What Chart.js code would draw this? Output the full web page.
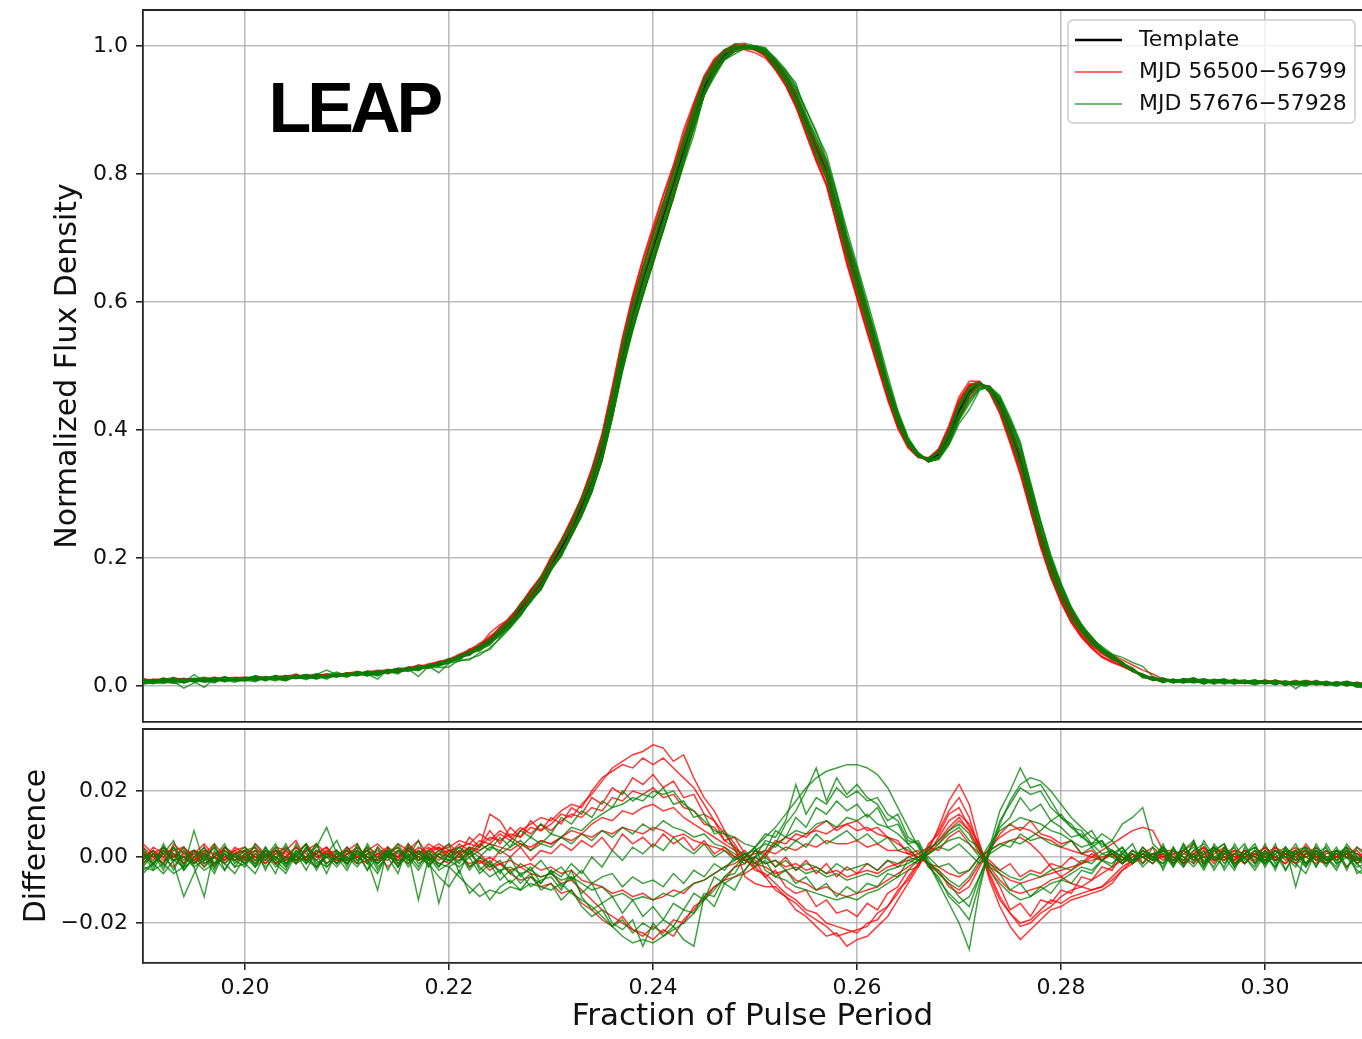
<!DOCTYPE html>
<html>
<head>
<meta charset="utf-8">
<script src="https://cdn.jsdelivr.net/npm/chart.js@4.4.1/dist/chart.umd.min.js"></script>
<style>
  html, body { margin: 0; padding: 0; background: #fff; overflow: hidden; }
  #wrap { position: relative; width: 1362px; height: 1039px; }
  #profile-chart { position: absolute; left: 0; top: 0; }
  #diff-chart { position: absolute; left: 0; top: 724px; }
</style>
</head>
<body>
<div id="wrap">
  <canvas id="profile-chart" width="1362" height="724"></canvas>
  <canvas id="diff-chart" width="1362" height="315"></canvas>
</div>
<script>
// pulse phase bins
const phase = [
  0.190, 0.191, 0.192, 0.193, 0.194, 0.195, 0.196, 0.197, 0.198, 0.199,
  0.200, 0.201, 0.202, 0.203, 0.204, 0.205, 0.206, 0.207, 0.208, 0.209,
  0.210, 0.211, 0.212, 0.213, 0.214, 0.215, 0.216, 0.217, 0.218, 0.219,
  0.220, 0.221, 0.222, 0.223, 0.224, 0.225, 0.226, 0.227, 0.228, 0.229,
  0.230, 0.231, 0.232, 0.233, 0.234, 0.235, 0.236, 0.237, 0.238, 0.239,
  0.240, 0.241, 0.242, 0.243, 0.244, 0.245, 0.246, 0.247, 0.248, 0.249,
  0.250, 0.251, 0.252, 0.253, 0.254, 0.255, 0.256, 0.257, 0.258, 0.259,
  0.260, 0.261, 0.262, 0.263, 0.264, 0.265, 0.266, 0.267, 0.268, 0.269,
  0.270, 0.271, 0.272, 0.273, 0.274, 0.275, 0.276, 0.277, 0.278, 0.279,
  0.280, 0.281, 0.282, 0.283, 0.284, 0.285, 0.286, 0.287, 0.288, 0.289,
  0.290, 0.291, 0.292, 0.293, 0.294, 0.295, 0.296, 0.297, 0.298, 0.299,
  0.300, 0.301, 0.302, 0.303, 0.304, 0.305, 0.306, 0.307, 0.308, 0.309,
  0.310
];

// standard profile, normalised to its peak
const template = [
  0.008, 0.008, 0.009, 0.009, 0.009, 0.010, 0.010, 0.010, 0.011, 0.011,
  0.011, 0.012, 0.012, 0.013, 0.013, 0.014, 0.014, 0.015, 0.016, 0.017,
  0.018, 0.019, 0.020, 0.021, 0.023, 0.024, 0.026, 0.028, 0.031, 0.035,
  0.039, 0.045, 0.052, 0.060, 0.070, 0.085, 0.100, 0.120, 0.140, 0.160,
  0.190, 0.215, 0.245, 0.280, 0.320, 0.370, 0.440, 0.515, 0.580, 0.635,
  0.685, 0.735, 0.785, 0.838, 0.888, 0.935, 0.966, 0.986, 0.997, 1.000,
  0.997, 0.990, 0.972, 0.950, 0.920, 0.880, 0.840, 0.805, 0.745, 0.685,
  0.630, 0.575, 0.520, 0.465, 0.415, 0.380, 0.360, 0.353, 0.362, 0.390,
  0.430, 0.460, 0.472, 0.465, 0.440, 0.400, 0.355, 0.295, 0.235, 0.185,
  0.145, 0.112, 0.088, 0.070, 0.055, 0.045, 0.035, 0.025, 0.016, 0.011,
  0.009, 0.008, 0.008, 0.008, 0.007, 0.007, 0.007, 0.007, 0.006, 0.006,
  0.006, 0.006, 0.005, 0.005, 0.005, 0.005, 0.004, 0.004, 0.004, 0.003,
  0.003
];

// residuals (profile - template), MJD 56500-56799
const early1 = [
  0.002, -0.001, 0.003, 0.001, -0.002, 0.002, 0.000, 0.003, -0.001, 0.001,
  0.002, 0.000, -0.002, 0.001, 0.003, 0.000, -0.001, 0.002, 0.001, -0.002,
  0.001, 0.002, 0.000, -0.001, 0.003, 0.001, 0.000, 0.002, -0.001, 0.001,
  0.002, 0.003, 0.004, 0.003, 0.006, 0.005, 0.007, 0.006, 0.009, 0.008,
  0.010, 0.013, 0.012, 0.016, 0.019, 0.023, 0.027, 0.029, 0.031, 0.032,
  0.034, 0.033, 0.029, 0.031, 0.024, 0.018, 0.014, 0.008, 0.004, -0.001,
  -0.003, -0.006, -0.010, -0.012, -0.016, -0.018, -0.021, -0.024, -0.023, -0.027,
  -0.025, -0.024, -0.021, -0.018, -0.013, -0.008, -0.003, 0.002, 0.009, 0.017,
  0.022, 0.016, 0.004, -0.007, -0.015, -0.021, -0.025, -0.022, -0.019, -0.016,
  -0.015, -0.013, -0.012, -0.011, -0.010, -0.008, -0.004, -0.001, 0.001, 0.000,
  0.001, -0.002, 0.002, 0.000, 0.003, -0.001, 0.001, 0.002, -0.002, 0.001,
  0.000, 0.002, -0.001, 0.001, -0.002, 0.002, 0.000, 0.001, -0.003, 0.001,
  -0.001
];
const early2 = [
  -0.001, 0.003, 0.001, 0.000, 0.002, -0.002, 0.001, 0.004, 0.000, -0.001,
  0.001, 0.003, 0.000, 0.002, -0.001, 0.001, 0.004, 0.000, 0.001, 0.002,
  -0.001, 0.000, 0.003, 0.001, 0.002, 0.000, 0.004, 0.001, 0.002, 0.003,
  0.001, 0.004, 0.002, 0.005, 0.004, 0.007, 0.005, 0.008, 0.010, 0.012,
  0.011, 0.014, 0.016, 0.015, 0.020, 0.024, 0.026, 0.028, 0.027, 0.030,
  0.028, 0.030, 0.027, 0.024, 0.021, 0.016, 0.011, 0.007, 0.003, 0.000,
  -0.004, -0.005, -0.008, -0.011, -0.013, -0.016, -0.017, -0.020, -0.021, -0.022,
  -0.023, -0.020, -0.019, -0.015, -0.011, -0.006, -0.002, 0.003, 0.008, 0.014,
  0.018, 0.012, 0.002, -0.006, -0.013, -0.017, -0.020, -0.019, -0.016, -0.013,
  -0.014, -0.012, -0.011, -0.010, -0.009, -0.006, -0.003, -0.001, 0.001, -0.001,
  0.002, 0.000, -0.001, 0.002, 0.001, -0.002, 0.003, 0.000, 0.001, -0.001,
  0.002, -0.001, 0.001, 0.003, 0.000, -0.002, 0.001, 0.002, 0.000, -0.001,
  0.001
];
const early3 = [
  0.004, 0.001, -0.002, 0.002, 0.003, 0.000, -0.003, 0.001, 0.002, -0.001,
  0.000, 0.002, 0.001, -0.002, 0.000, 0.003, 0.001, -0.001, 0.002, 0.000,
  0.002, -0.001, 0.001, 0.002, 0.000, 0.004, 0.002, -0.001, 0.001, 0.003,
  0.000, 0.002, 0.001, 0.003, 0.013, 0.011, 0.006, 0.004, 0.002, 0.005,
  0.004, 0.006, 0.008, 0.007, 0.010, 0.012, 0.011, 0.014, 0.013, 0.015,
  0.016, 0.014, 0.015, 0.012, 0.010, 0.008, 0.006, 0.004, 0.002, -0.001,
  -0.002, -0.003, -0.005, -0.004, -0.007, -0.008, -0.010, -0.009, -0.011, -0.012,
  -0.011, -0.010, -0.009, -0.007, -0.005, -0.003, -0.001, 0.001, 0.004, 0.008,
  0.011, 0.008, 0.002, -0.003, -0.007, -0.010, -0.011, -0.010, -0.009, -0.007,
  -0.006, -0.004, -0.002, 0.000, 0.002, 0.004, 0.006, 0.008, 0.009, 0.008,
  0.002, 0.002, 0.000, -0.002, 0.001, 0.003, 0.000, -0.001, 0.002, 0.000,
  0.003, 0.000, -0.002, 0.001, 0.002, -0.001, 0.002, 0.000, 0.001, -0.002,
  0.000
];
const early4 = [
  -0.002, 0.001, 0.000, -0.003, 0.001, 0.002, -0.001, 0.000, -0.002, 0.001,
  -0.001, 0.000, 0.002, -0.002, -0.001, 0.001, 0.000, -0.003, 0.000, 0.001,
  0.000, -0.002, -0.001, 0.001, -0.003, 0.000, 0.002, -0.001, 0.000, -0.002,
  -0.001, 0.000, -0.002, -0.001, -0.003, -0.002, -0.004, -0.003, -0.005, -0.006,
  -0.005, -0.008, -0.007, -0.010, -0.013, -0.016, -0.018, -0.020, -0.022, -0.023,
  -0.025, -0.022, -0.024, -0.019, -0.016, -0.012, -0.009, -0.007, -0.006, -0.005,
  -0.003, 0.001, 0.004, 0.006, 0.005, 0.007, 0.008, 0.007, 0.009, 0.010,
  0.008, 0.009, 0.007, 0.006, 0.004, 0.002, 0.000, -0.002, -0.005, -0.008,
  -0.010, -0.007, -0.002, 0.003, 0.006, 0.008, 0.009, 0.008, 0.006, 0.005,
  0.003, 0.002, 0.001, 0.000, -0.001, 0.001, -0.002, 0.000, 0.001, -0.001,
  0.000, 0.001, -0.002, 0.001, 0.000, -0.001, 0.002, -0.002, 0.000, 0.001,
  -0.001, 0.000, 0.002, -0.001, 0.001, 0.000, -0.002, 0.001, 0.000, -0.001,
  0.000
];
const early5 = [
  0.001, 0.000, 0.002, -0.001, 0.000, 0.001, -0.002, 0.000, 0.003, 0.000,
  -0.002, 0.001, 0.000, 0.002, 0.000, -0.001, 0.002, 0.001, -0.002, 0.000,
  0.002, 0.000, -0.002, 0.001, 0.000, -0.001, 0.003, 0.000, -0.002, 0.001,
  0.000, -0.001, 0.001, -0.002, 0.000, -0.002, -0.001, -0.003, -0.002, -0.004,
  -0.003, -0.005, -0.004, -0.007, -0.008, -0.009, -0.011, -0.010, -0.012, -0.011,
  -0.013, -0.012, -0.010, -0.011, -0.008, -0.007, -0.005, -0.003, -0.002, 0.000,
  0.001, 0.002, 0.001, 0.003, 0.002, 0.004, 0.003, 0.005, 0.004, 0.004,
  0.005, 0.003, 0.004, 0.002, 0.002, 0.001, 0.000, -0.002, -0.003, -0.005,
  -0.006, -0.004, 0.000, 0.002, 0.004, 0.005, 0.006, 0.004, 0.001, -0.003,
  -0.006, -0.008, -0.009, -0.010, -0.009, -0.007, -0.004, -0.002, 0.000, 0.001,
  0.000, -0.002, 0.001, 0.000, 0.002, -0.001, 0.000, 0.001, -0.002, 0.001,
  0.000, -0.001, 0.001, 0.000, 0.002, -0.001, -0.002, 0.000, 0.001, 0.000,
  -0.001
];
const early6 = [
  0.000, 0.002, -0.001, 0.001, 0.000, -0.002, 0.002, 0.001, -0.001, 0.003,
  0.001, -0.001, 0.000, 0.003, 0.002, -0.001, 0.000, 0.001, 0.003, 0.000,
  -0.002, 0.001, 0.002, 0.000, -0.001, 0.002, 0.000, 0.003, 0.001, -0.001,
  0.002, 0.001, 0.003, 0.002, 0.004, 0.003, 0.002, 0.004, 0.003, 0.005,
  0.004, 0.006, 0.005, 0.007, 0.006, 0.008, 0.007, 0.009, 0.008, 0.007,
  0.009, 0.008, 0.006, 0.007, 0.005, 0.004, 0.003, 0.002, 0.000, -0.001,
  0.000, -0.002, -0.001, -0.003, -0.002, -0.004, -0.003, -0.005, -0.004, -0.006,
  -0.005, -0.004, -0.005, -0.003, -0.002, -0.001, 0.000, 0.002, 0.005, 0.009,
  0.012, 0.008, 0.002, -0.002, -0.005, -0.007, -0.008, -0.007, -0.006, -0.005,
  -0.004, -0.003, -0.002, -0.001, 0.000, 0.001, -0.001, 0.002, 0.000, 0.001,
  -0.001, 0.001, 0.002, -0.001, 0.000, 0.002, -0.001, 0.001, 0.000, 0.002,
  0.001, 0.000, -0.002, 0.002, 0.000, 0.001, -0.001, 0.000, 0.002, -0.001,
  0.001
];
const early7 = [
  0.003, 0.000, -0.002, 0.004, 0.001, -0.001, 0.003, -0.002, 0.000, 0.002,
  -0.001, 0.004, 0.001, -0.002, 0.002, 0.005, -0.001, 0.001, 0.003, -0.002,
  0.002, 0.004, -0.001, 0.001, 0.003, -0.002, 0.002, 0.005, 0.000, 0.002,
  0.004, 0.001, 0.006, 0.003, 0.008, 0.004, 0.009, 0.006, 0.011, 0.008,
  0.012, 0.010, 0.015, 0.013, 0.018, 0.016, 0.021, 0.019, 0.024, 0.022,
  0.025, 0.021, 0.023, 0.018, 0.019, 0.013, 0.011, 0.005, 0.006, 0.001,
  -0.001, -0.006, -0.004, -0.009, -0.011, -0.010, -0.015, -0.013, -0.017, -0.016,
  -0.018, -0.014, -0.016, -0.011, -0.009, -0.004, -0.003, 0.004, 0.007, 0.013,
  0.015, 0.009, 0.004, -0.004, -0.009, -0.016, -0.014, -0.018, -0.013, -0.014,
  -0.010, -0.011, -0.006, -0.007, -0.003, -0.004, 0.001, -0.002, 0.003, 0.000,
  0.003, -0.001, 0.002, 0.004, -0.002, 0.001, 0.003, -0.001, 0.002, 0.000,
  -0.002, 0.003, 0.001, -0.001, 0.004, 0.000, -0.002, 0.002, 0.000, 0.003,
  0.001
];
const early8 = [
  -0.001, 0.002, 0.000, 0.003, -0.002, 0.001, 0.004, 0.000, -0.001, 0.002,
  0.003, 0.000, -0.001, 0.002, 0.001, -0.002, 0.003, 0.000, 0.002, -0.001,
  0.001, 0.003, 0.000, -0.001, 0.002, 0.000, -0.002, 0.001, 0.003, 0.000,
  -0.002, 0.001, -0.003, -0.001, -0.004, -0.002, -0.005, -0.007, -0.006, -0.009,
  -0.008, -0.011, -0.010, -0.014, -0.016, -0.019, -0.021, -0.018, -0.022, -0.024,
  -0.021, -0.023, -0.019, -0.020, -0.015, -0.013, -0.009, -0.007, -0.003, -0.002,
  0.002, 0.001, 0.005, 0.004, 0.007, 0.006, 0.009, 0.011, 0.008, 0.010,
  0.011, 0.008, 0.009, 0.006, 0.005, 0.001, 0.002, -0.003, -0.004, -0.009,
  -0.011, -0.009, -0.003, 0.002, 0.007, 0.010, 0.008, 0.011, 0.007, 0.006,
  0.004, 0.005, 0.001, 0.002, -0.001, 0.001, -0.002, 0.001, 0.000, -0.002,
  0.001, -0.001, 0.002, 0.000, -0.002, 0.003, 0.001, -0.001, 0.002, 0.000,
  -0.001, 0.002, 0.000, -0.002, 0.001, 0.003, -0.001, 0.000, 0.002, -0.002,
  0.000
];
const early9 = [
  0.001, -0.002, 0.002, 0.000, 0.003, -0.001, 0.001, -0.003, 0.002, 0.000,
  0.000, 0.002, -0.002, 0.001, 0.000, 0.003, -0.001, 0.002, 0.000, -0.001,
  -0.001, 0.000, 0.002, -0.002, 0.001, 0.003, -0.001, 0.000, 0.002, 0.004,
  0.002, 0.000, 0.003, 0.001, -0.002, 0.002, 0.000, 0.003, -0.001, 0.002,
  0.001, 0.004, 0.002, 0.005, 0.003, 0.006, 0.002, 0.007, 0.004, 0.006,
  0.003, 0.007, 0.004, 0.006, 0.002, 0.005, 0.001, 0.003, 0.000, 0.002,
  -0.002, 0.001, -0.003, 0.000, -0.004, -0.001, -0.005, -0.002, -0.006, -0.003,
  -0.005, -0.002, -0.004, -0.001, -0.003, 0.000, 0.001, 0.003, 0.002, 0.006,
  0.008, 0.004, 0.001, -0.001, -0.004, -0.002, -0.006, -0.004, -0.005, -0.002,
  -0.003, 0.000, -0.002, 0.001, -0.001, 0.002, 0.000, -0.002, 0.001, 0.003,
  0.000, 0.002, -0.002, 0.001, 0.003, -0.001, 0.002, 0.000, -0.002, 0.001,
  0.003, -0.001, 0.001, 0.002, -0.002, 0.000, 0.002, -0.001, 0.001, 0.002,
  -0.001
];
const early10 = [
  -0.002, 0.001, 0.003, -0.001, 0.000, 0.002, 0.001, -0.002, 0.003, 0.001,
  0.002, -0.002, 0.001, 0.000, 0.002, -0.001, 0.002, 0.004, 0.001, 0.000,
  0.003, 0.000, 0.002, 0.004, 0.001, 0.000, 0.003, 0.001, 0.004, 0.002,
  0.003, 0.005, 0.004, 0.007, 0.005, 0.008, 0.006, 0.009, 0.007, 0.010,
  0.008, 0.011, 0.013, 0.012, 0.015, 0.014, 0.018, 0.017, 0.020, 0.019,
  0.021, 0.018, 0.019, 0.015, 0.014, 0.010, 0.009, 0.005, 0.003, -0.006,
  -0.008, -0.009, -0.009, -0.012, -0.014, -0.017, -0.019, -0.021, -0.024, -0.023,
  -0.022, -0.021, -0.017, -0.015, -0.010, -0.007, -0.002, 0.001, 0.006, 0.011,
  0.013, 0.010, 0.003, -0.005, -0.012, -0.017, -0.021, -0.020, -0.017, -0.015,
  -0.012, -0.010, -0.009, -0.007, -0.005, -0.003, -0.001, 0.001, -0.002, 0.001,
  0.002, 0.000, -0.002, 0.001, 0.003, 0.000, -0.001, 0.002, 0.001, -0.002,
  0.001, 0.003, 0.000, -0.002, 0.001, 0.002, -0.001, 0.000, 0.003, 0.001,
  0.000
];

// residuals (profile - template), MJD 57676-57928
const late1 = [
  -0.003, -0.004, -0.002, -0.005, -0.003, -0.001, -0.004, -0.002, 0.001, -0.003,
  -0.002, 0.001, -0.003, 0.000, -0.002, 0.002, -0.001, -0.003, 0.001, -0.002,
  0.000, -0.003, 0.001, -0.002, 0.002, -0.001, 0.000, -0.004, 0.001, -0.002,
  -0.003, -0.006, -0.009, -0.012, -0.010, -0.011, -0.009, -0.010, -0.008, -0.009,
  -0.010, -0.008, -0.011, -0.013, -0.015, -0.018, -0.021, -0.024, -0.026, -0.025,
  -0.026, -0.024, -0.022, -0.020, -0.017, -0.013, -0.010, -0.006, -0.003, 0.000,
  0.003, 0.006, 0.009, 0.013, 0.017, 0.021, 0.024, 0.026, 0.027, 0.028,
  0.028, 0.027, 0.025, 0.021, 0.015, 0.009, 0.003, -0.002, -0.007, -0.011,
  -0.014, -0.012, -0.006, 0.002, 0.010, 0.017, 0.022, 0.024, 0.023, 0.020,
  0.016, 0.012, 0.009, 0.006, 0.004, 0.002, 0.000, -0.002, 0.001, -0.001,
  0.002, -0.001, 0.003, 0.000, -0.003, 0.002, 0.004, -0.002, 0.001, 0.003,
  -0.001, 0.002, 0.000, -0.003, 0.003, 0.001, -0.002, 0.002, 0.000, -0.003,
  -0.002
];
const late2 = [
  0.002, -0.003, 0.004, -0.002, -0.012, -0.005, 0.001, -0.004, 0.003, 0.000,
  0.002, 0.003, -0.004, 0.002, -0.003, 0.004, -0.002, 0.001, -0.005, 0.002,
  -0.003, 0.004, -0.002, 0.003, -0.004, 0.002, 0.000, 0.005, -0.003, 0.001,
  0.004, -0.005, 0.002, -0.003, -0.006, -0.004, -0.008, -0.005, -0.009, -0.007,
  -0.006, -0.010, -0.004, -0.012, -0.016, -0.014, -0.020, -0.022, -0.019, -0.027,
  -0.020, -0.024, -0.021, -0.025, -0.027, -0.012, -0.015, -0.008, -0.010, -0.004,
  0.000, 0.005, 0.004, 0.010, 0.014, 0.020, 0.027, 0.017, 0.024, 0.019,
  0.022, 0.018, 0.016, 0.011, 0.013, 0.006, 0.004, -0.002, -0.008, -0.014,
  -0.020, -0.028, -0.010, 0.003, 0.014, 0.020, 0.027, 0.021, 0.022, 0.017,
  0.012, 0.010, 0.006, 0.008, 0.003, 0.005, 0.001, 0.004, -0.002, 0.003,
  -0.004, 0.003, -0.002, 0.005, -0.003, 0.004, 0.000, -0.004, 0.003, -0.002,
  0.004, -0.002, 0.003, -0.009, 0.002, -0.003, 0.004, -0.001, 0.003, -0.005,
  -0.003
];
const late3 = [
  -0.001, 0.002, -0.003, 0.001, -0.004, 0.000, 0.003, -0.002, 0.001, -0.003,
  0.001, -0.002, 0.003, -0.001, -0.004, 0.002, 0.000, 0.004, -0.002, 0.001,
  -0.002, 0.002, -0.001, -0.010, 0.003, -0.002, 0.001, -0.003, 0.002, 0.000,
  -0.001, 0.002, -0.003, 0.000, -0.002, -0.004, -0.003, -0.005, -0.004, -0.006,
  -0.005, -0.007, -0.006, -0.008, -0.010, -0.009, -0.012, -0.011, -0.013, -0.012,
  -0.013, -0.011, -0.012, -0.010, -0.008, -0.007, -0.005, -0.003, -0.001, 0.001,
  0.002, 0.004, 0.003, 0.006, 0.008, 0.007, 0.010, 0.011, 0.009, 0.012,
  0.011, 0.013, 0.010, 0.009, 0.007, 0.004, 0.001, -0.002, -0.004, -0.007,
  -0.009, -0.006, -0.001, 0.004, 0.008, 0.010, 0.012, 0.011, 0.010, 0.008,
  0.007, 0.005, 0.003, 0.004, 0.001, 0.002, -0.001, 0.002, 0.000, -0.002,
  0.003, 0.000, -0.003, 0.002, 0.004, -0.001, 0.002, -0.003, 0.001, 0.003,
  0.000, -0.003, 0.002, 0.001, -0.002, 0.003, 0.000, -0.004, 0.002, 0.001,
  -0.002
];
const late4 = [
  -0.004, -0.002, -0.005, -0.001, -0.003, 0.008, -0.002, 0.000, -0.004, 0.001,
  -0.002, -0.005, 0.001, -0.003, 0.000, -0.002, 0.003, -0.001, -0.003, 0.000,
  -0.002, 0.001, -0.004, 0.000, 0.002, -0.003, 0.001, -0.013, 0.000, -0.014,
  -0.003, -0.001, 0.002, 0.000, 0.003, 0.002, 0.005, 0.003, 0.006, 0.004,
  0.007, 0.006, 0.009, 0.008, 0.011, 0.013, 0.015, 0.016, 0.018, 0.017,
  0.020, 0.019, 0.020, 0.016, 0.014, 0.011, 0.008, 0.007, 0.006, 0.004,
  0.003, -0.004, -0.006, -0.007, -0.009, -0.010, -0.011, -0.012, -0.013, -0.012,
  -0.013, -0.011, -0.010, -0.008, -0.006, -0.004, -0.001, 0.002, 0.005, 0.008,
  0.010, 0.007, 0.001, -0.004, -0.008, -0.011, -0.013, -0.012, -0.010, -0.008,
  -0.007, -0.005, -0.003, -0.004, -0.001, -0.002, 0.001, -0.001, 0.002, 0.000,
  -0.002, 0.002, 0.000, -0.003, 0.001, 0.003, -0.002, 0.001, 0.000, -0.003,
  0.002, -0.001, 0.000, 0.002, -0.003, 0.001, 0.003, -0.002, 0.000, -0.004,
  -0.006
];
const late5 = [
  0.001, -0.002, 0.003, -0.001, 0.000, -0.003, -0.012, 0.002, -0.002, 0.001,
  0.003, -0.001, 0.002, 0.000, -0.003, 0.001, 0.004, -0.002, 0.000, 0.002,
  -0.001, 0.003, 0.000, -0.002, 0.001, 0.004, -0.001, 0.002, 0.000, -0.003,
  0.001, 0.003, 0.000, 0.002, 0.004, 0.001, 0.003, 0.005, 0.002, 0.004,
  0.003, 0.006, 0.004, 0.007, 0.005, 0.008, 0.006, 0.009, 0.007, 0.010,
  0.008, 0.011, 0.009, 0.008, 0.006, 0.007, 0.004, 0.003, 0.001, -0.001,
  0.000, -0.002, -0.001, -0.004, -0.003, -0.005, -0.004, -0.006, -0.005, -0.007,
  -0.006, -0.005, -0.006, -0.004, -0.003, -0.002, 0.000, 0.001, 0.003, 0.005,
  0.006, 0.004, 0.000, -0.002, -0.004, -0.006, -0.007, -0.005, -0.006, -0.004,
  -0.003, -0.004, -0.001, -0.002, 0.001, 0.000, -0.002, 0.002, 0.000, 0.001,
  0.002, -0.002, 0.001, 0.003, -0.001, 0.000, 0.002, -0.003, 0.001, 0.000,
  -0.002, 0.001, 0.003, -0.001, 0.000, 0.002, -0.002, 0.001, 0.003, -0.001,
  0.001
];
const late6 = [
  -0.002, 0.001, -0.004, 0.003, -0.001, 0.002, -0.003, 0.000, 0.004, -0.002,
  0.001, -0.003, 0.002, -0.001, 0.004, -0.002, 0.000, 0.003, 0.009, 0.001,
  0.002, -0.002, 0.004, -0.001, 0.001, -0.003, 0.002, 0.000, -0.002, -0.006,
  -0.009, -0.004, -0.011, -0.008, -0.013, -0.009, -0.007, -0.010, -0.006, -0.008,
  -0.004, -0.006, -0.002, -0.005, 0.000, -0.003, 0.002, -0.001, 0.003, 0.001,
  0.004, 0.002, 0.006, 0.003, 0.001, 0.004, 0.000, 0.002, -0.001, 0.001,
  -0.002, 0.000, -0.003, -0.001, -0.004, -0.002, -0.003, -0.005, -0.002, -0.004,
  -0.003, -0.002, -0.004, -0.001, -0.002, 0.000, -0.001, 0.001, 0.003, 0.002,
  0.004, 0.001, -0.002, 0.001, 0.003, 0.005, 0.004, 0.006, 0.008, 0.011,
  0.013, 0.009, 0.006, 0.004, 0.007, 0.005, 0.010, 0.012, 0.015, 0.004,
  0.001, -0.003, 0.004, -0.002, 0.005, 0.000, -0.003, 0.004, -0.001, 0.002,
  -0.002, 0.004, -0.004, 0.001, 0.003, -0.003, 0.002, -0.002, 0.004, 0.000,
  -0.004
];
const late7 = [
  0.003, -0.002, 0.001, 0.005, -0.003, 0.002, -0.001, 0.004, -0.004, 0.001,
  -0.002, 0.004, 0.000, -0.005, 0.003, -0.001, 0.002, -0.004, 0.001, 0.005,
  -0.002, 0.002, -0.004, 0.003, 0.000, -0.005, 0.004, -0.001, 0.002, -0.003,
  0.001, -0.002, 0.003, -0.004, -0.001, -0.005, 0.000, -0.006, -0.003, -0.008,
  -0.004, -0.009, -0.006, -0.011, -0.008, -0.014, -0.012, -0.017, -0.013, -0.018,
  -0.015, -0.019, -0.014, -0.016, -0.011, -0.013, -0.006, -0.008, -0.006, -0.004,
  0.000, 0.002, 0.008, 0.006, 0.012, 0.009, 0.015, 0.013, 0.017, 0.014,
  0.016, 0.012, 0.015, 0.009, 0.010, 0.004, 0.005, -0.001, -0.005, -0.008,
  -0.012, -0.015, -0.006, 0.001, 0.009, 0.012, 0.018, 0.014, 0.016, 0.011,
  0.009, 0.006, 0.007, 0.003, 0.005, 0.000, 0.003, -0.002, 0.002, -0.001,
  0.004, -0.003, 0.002, 0.005, -0.002, 0.003, -0.004, 0.001, 0.004, -0.002,
  0.002, -0.004, 0.003, 0.000, -0.003, 0.004, -0.001, 0.002, -0.004, 0.003,
  0.000
];
const late8 = [
  -0.003, 0.001, -0.002, 0.003, -0.004, 0.000, 0.002, -0.003, 0.001, -0.001,
  0.002, -0.003, 0.000, 0.004, -0.002, 0.001, -0.004, 0.002, 0.000, -0.003,
  0.001, -0.002, 0.003, -0.003, 0.000, 0.002, -0.003, 0.001, -0.001, 0.002,
  0.000, 0.003, 0.001, 0.004, 0.002, 0.006, 0.003, 0.008, 0.006, 0.010,
  0.007, 0.012, 0.010, 0.014, 0.012, 0.017, 0.015, 0.020, 0.017, 0.019,
  0.018, 0.021, 0.016, 0.017, 0.012, 0.013, 0.007, 0.008, 0.002, 0.001,
  -0.003, -0.001, -0.006, -0.004, -0.008, -0.006, -0.010, -0.008, -0.012, -0.009,
  -0.011, -0.008, -0.009, -0.005, -0.006, -0.001, -0.002, 0.003, 0.004, 0.007,
  0.009, 0.005, 0.003, -0.003, -0.005, -0.010, -0.008, -0.012, -0.009, -0.011,
  -0.007, -0.008, -0.004, -0.005, -0.001, -0.003, 0.002, -0.001, 0.003, 0.000,
  -0.003, 0.002, -0.001, 0.004, 0.000, -0.003, 0.003, -0.002, 0.001, 0.004,
  -0.002, 0.001, -0.004, 0.002, 0.003, -0.001, 0.000, -0.003, 0.002, -0.002,
  -0.005
];
const late9 = [
  -0.005, -0.002, 0.001, -0.004, 0.002, -0.003, -0.001, 0.003, -0.002, -0.005,
  0.000, -0.003, 0.003, -0.002, -0.005, 0.001, -0.002, 0.004, -0.003, 0.000,
  -0.004, 0.002, -0.001, -0.005, 0.001, -0.003, 0.003, -0.002, 0.000, -0.004,
  -0.002, 0.001, -0.004, 0.000, -0.003, -0.001, -0.005, -0.002, -0.004, -0.001,
  -0.005, -0.003, -0.007, -0.004, -0.008, -0.006, -0.005, -0.009, -0.006, -0.008,
  -0.007, -0.009, -0.005, -0.008, -0.004, -0.006, -0.002, -0.004, 0.000, -0.002,
  0.002, 0.000, 0.004, 0.002, 0.005, 0.003, 0.007, 0.004, 0.006, 0.008,
  0.005, 0.007, 0.004, 0.006, 0.002, 0.003, -0.001, 0.000, -0.003, -0.002,
  -0.005, -0.004, 0.000, 0.002, 0.004, 0.003, 0.007, 0.005, 0.006, 0.004,
  0.003, 0.005, 0.001, 0.003, -0.001, 0.002, -0.002, 0.001, -0.003, 0.000,
  -0.002, 0.003, -0.003, 0.001, -0.004, 0.002, 0.004, -0.003, 0.000, -0.004,
  0.001, -0.003, 0.002, -0.002, -0.005, 0.002, -0.001, 0.003, -0.003, 0.000,
  -0.002
];
const late10 = [
  0.001, -0.004, 0.002, -0.001, 0.003, -0.002, 0.000, -0.005, 0.002, -0.001,
  -0.003, 0.002, -0.001, 0.003, -0.002, 0.000, 0.004, -0.003, 0.001, -0.002,
  0.003, -0.001, 0.002, -0.004, 0.001, 0.003, -0.002, 0.002, -0.003, 0.001,
  -0.001, -0.003, 0.000, -0.005, -0.002, -0.007, -0.004, -0.008, -0.005, -0.010,
  -0.008, -0.013, -0.010, -0.015, -0.018, -0.016, -0.021, -0.019, -0.023, -0.020,
  -0.022, -0.019, -0.021, -0.016, -0.017, -0.011, -0.012, -0.006, -0.005, 0.000,
  0.003, 0.007, 0.006, 0.011, 0.022, 0.013, 0.018, 0.016, 0.021, 0.018,
  0.020, 0.017, 0.018, 0.013, 0.011, 0.005, 0.004, -0.003, -0.006, -0.012,
  -0.015, -0.019, -0.008, 0.002, 0.011, 0.016, 0.021, 0.019, 0.020, 0.015,
  0.012, 0.009, 0.008, 0.004, 0.005, 0.001, 0.003, -0.001, 0.002, 0.000,
  0.003, -0.002, 0.004, -0.001, 0.002, -0.004, 0.001, 0.003, -0.002, 0.002,
  -0.003, 0.002, 0.000, 0.004, -0.002, 0.001, -0.003, 0.002, 0.001, -0.002,
  0.001
];

const earlyResiduals = [early1, early2, early3, early4, early5, early6, early7, early8, early9, early10];
const lateResiduals = [late1, late2, late3, late4, late5, late6, late7, late8, late9, late10];

const xTicks = [0.20, 0.22, 0.24, 0.26, 0.28, 0.30];
const fluxTicks = [0.0, 0.2, 0.4, 0.6, 0.8, 1.0];
const diffTicks = [-0.02, 0.00, 0.02];

const series = {
  template: { label: "Template", color: "#000000", width: 2.6 },
  early: { label: "MJD 56500\u221256799", color: "rgba(255,0,0,0.78)", width: 1.5 },
  late: { label: "MJD 57676\u221257928", color: "rgba(0,128,0,0.75)", width: 1.5 },
};

const frameColor = "#262626";
const gridColor = "rgba(176,176,176,0.85)";
const textColor = "#111111";
const tickFont = { family: "DejaVu Sans", size: 22 };
const titleFont = { family: "DejaVu Sans", size: 30 };

// axis boxes get a fixed size so both panels line up
function pinWidth(w) {
  return function (scale) {
    scale.width = w;
    scale.paddingTop = 0;
    scale.paddingBottom = 0;
  };
}

function pinHeight(h) {
  return function (scale) {
    scale.height = h;
    scale.paddingLeft = 0;
    scale.paddingRight = 0;
  };
}

function useTicks(values) {
  return function (scale) {
    scale.ticks = values.map((v) => ({ value: v }));
  };
}

function minusSign(text) {
  return text.replace("-", "\u2212");
}

function lineDataset(style, ys, order) {
  return {
    data: phase.map((x, i) => ({ x: x, y: ys[i] })),
    borderColor: style.color,
    borderWidth: style.width,
    pointRadius: 0,
    tension: 0,
    fill: false,
    order: order,
  };
}

function profileDatasets() {
  const sets = [];
  lateResiduals.forEach((r) => {
    sets.push(lineDataset(series.late, template.map((t, i) => t + r[i]), 1));
  });
  earlyResiduals.forEach((r) => {
    sets.push(lineDataset(series.early, template.map((t, i) => t + r[i]), 2));
  });
  sets.push(lineDataset(series.template, template, 3));
  return sets;
}

function residualDatasets() {
  const sets = [];
  lateResiduals.forEach((r) => sets.push(lineDataset(series.late, r, 1)));
  earlyResiduals.forEach((r) => sets.push(lineDataset(series.early, r, 2)));
  return sets;
}

const topFrame = {
  id: "topFrame",
  afterDraw(chart) {
    const a = chart.chartArea;
    const ctx = chart.ctx;
    ctx.save();
    ctx.strokeStyle = frameColor;
    ctx.lineWidth = 1.8;
    ctx.beginPath();
    ctx.moveTo(a.left, a.top);
    ctx.lineTo(a.right, a.top);
    ctx.stroke();
    ctx.restore();
  },
};

const legendBox = {
  id: "legendBox",
  afterDraw(chart) {
    const a = chart.chartArea;
    const ctx = chart.ctx;
    const w = 287;
    const h = 103;
    const left = a.right - w - 7;
    const top = a.top + 10;
    ctx.save();
    ctx.fillStyle = "rgba(255,255,255,0.8)";
    ctx.strokeStyle = "#cccccc";
    ctx.lineWidth = 1.5;
    ctx.beginPath();
    ctx.roundRect(left, top, w, h, 5);
    ctx.fill();
    ctx.stroke();
    ctx.font = '22px "DejaVu Sans"';
    ctx.textBaseline = "middle";
    [series.template, series.early, series.late].forEach((s, k) => {
      const y = top + 20 + k * 32;
      ctx.strokeStyle = s.color;
      ctx.lineWidth = s.width;
      ctx.beginPath();
      ctx.moveTo(left + 7, y);
      ctx.lineTo(left + 54, y);
      ctx.stroke();
      ctx.fillStyle = textColor;
      ctx.fillText(s.label, left + 71, y);
    });
    ctx.restore();
  },
};

const leapLabel = {
  id: "leapLabel",
  afterDatasetsDraw(chart) {
    const ctx = chart.ctx;
    const x = chart.scales.x.getPixelForValue(0.2023);
    const y = chart.scales.y.getPixelForValue(0.865);
    ctx.save();
    ctx.font = 'bold 70px "Liberation Sans"';
    ctx.letterSpacing = "-4px";
    ctx.fillStyle = "#000";
    ctx.textBaseline = "alphabetic";
    ctx.fillText("LEAP", x, y);
    ctx.restore();
  },
};

function xAxis(showLabels, height) {
  const axis = {
    type: "linear",
    min: 0.19,
    max: 0.3095,
    afterBuildTicks: useTicks(xTicks),
    afterFit: pinHeight(height),
    grid: { color: gridColor, lineWidth: 1.6, drawTicks: showLabels, tickLength: 7, tickColor: frameColor, tickWidth: 1.6 },
    border: { color: frameColor, width: 1.8 },
    ticks: { display: showLabels, font: tickFont, color: textColor, padding: 5, callback: (v) => v.toFixed(2) },
  };
  if (showLabels) {
    axis.title = {
      display: true,
      text: "Fraction of Pulse Period",
      font: { family: "DejaVu Sans", size: 31 },
      color: textColor,
      padding: { top: 0, bottom: 3 },
    };
  }
  return axis;
}

function yAxis(min, max, ticks, digits, title, titlePad) {
  return {
    type: "linear",
    min: min,
    max: max,
    afterBuildTicks: useTicks(ticks),
    afterFit: pinWidth(143),
    grid: { color: gridColor, lineWidth: 1.6, tickLength: 7, tickColor: frameColor, tickWidth: 1.6 },
    border: { color: frameColor, width: 1.8 },
    ticks: { font: tickFont, color: textColor, padding: 8, callback: (v) => minusSign(v.toFixed(digits)) },
    title: { display: true, text: title, font: titleFont, color: textColor, padding: { top: titlePad, bottom: 0 } },
  };
}

new Chart(document.getElementById("profile-chart"), {
  type: "line",
  data: { datasets: profileDatasets() },
  options: {
    responsive: false,
    animation: false,
    parsing: false,
    layout: { padding: { top: 10, left: 0, right: 0, bottom: 0 } },
    plugins: { legend: { display: false }, tooltip: { enabled: false } },
    scales: {
      x: xAxis(false, 2),
      y: yAxis(-0.056, 1.056, fluxTicks, 1, "Normalized Flux Density", 50),
    },
  },
  plugins: [topFrame, leapLabel, legendBox],
});

new Chart(document.getElementById("diff-chart"), {
  type: "line",
  data: { datasets: residualDatasets() },
  options: {
    responsive: false,
    animation: false,
    parsing: false,
    layout: { padding: { top: 5, left: 0, right: 0, bottom: 0 } },
    plugins: { legend: { display: false }, tooltip: { enabled: false } },
    scales: {
      x: xAxis(true, 76),
      y: yAxis(-0.0321, 0.0388, diffTicks, 2, "Difference", 19),
    },
  },
  plugins: [topFrame],
});
</script>
</body>
</html>
